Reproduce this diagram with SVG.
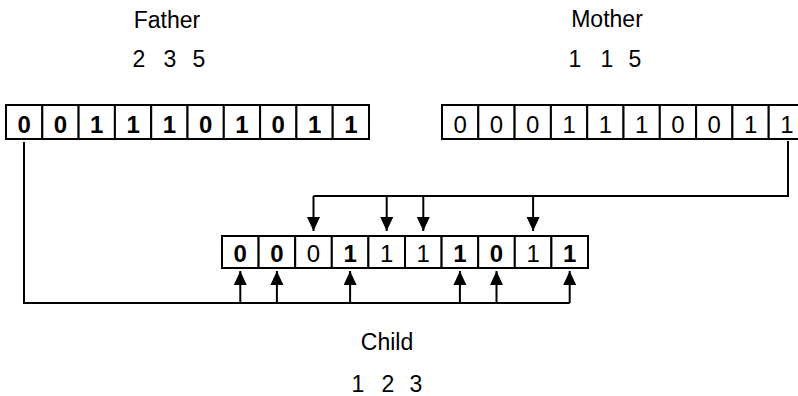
<svg xmlns="http://www.w3.org/2000/svg" width="798" height="396" viewBox="0 0 798 396">
<style>
.cell{fill:#fff;stroke:#000;stroke-width:2}
.d{font-family:"Liberation Sans",Arial,sans-serif;font-size:24px;text-anchor:middle;fill:#000}
.b{font-weight:bold}
.lab{font-family:"Liberation Sans",Arial,sans-serif;font-size:23px;text-anchor:middle;fill:#000}
.con{fill:none;stroke:#000;stroke-width:2}
</style>
<defs>
<marker id="ah" markerUnits="userSpaceOnUse" markerWidth="15" markerHeight="14" refX="14" refY="6.5" orient="auto" viewBox="0 0 15 14">
<path d="M0,0 L14,6.5 L0,13 z" fill="#000"/>
</marker>
</defs>
<rect width="798" height="396" fill="#fff"/>

<g id="father">
<text class="lab" x="167" y="28">Father</text>
<text class="lab" x="139" y="67">2</text><text class="lab" x="170" y="67">3</text><text class="lab" x="199" y="67">5</text>
<rect class="cell" x="6" y="105" width="36.3" height="34"/>
<rect class="cell" x="42.3" y="105" width="36.3" height="34"/>
<rect class="cell" x="78.6" y="105" width="36.3" height="34"/>
<rect class="cell" x="114.9" y="105" width="36.3" height="34"/>
<rect class="cell" x="151.2" y="105" width="36.3" height="34"/>
<rect class="cell" x="187.5" y="105" width="36.3" height="34"/>
<rect class="cell" x="223.8" y="105" width="36.3" height="34"/>
<rect class="cell" x="260.1" y="105" width="36.3" height="34"/>
<rect class="cell" x="296.4" y="105" width="36.3" height="34"/>
<rect class="cell" x="332.7" y="105" width="36.3" height="34"/>
<text class="d b" x="24.2" y="133">0</text>
<text class="d b" x="60.5" y="133">0</text>
<text class="d b" x="96.8" y="133">1</text>
<text class="d b" x="133.1" y="133">1</text>
<text class="d b" x="169.4" y="133">1</text>
<text class="d b" x="205.7" y="133">0</text>
<text class="d b" x="242" y="133">1</text>
<text class="d b" x="278.3" y="133">0</text>
<text class="d b" x="314.6" y="133">1</text>
<text class="d b" x="350.9" y="133">1</text>
</g>

<g id="mother">
<text class="lab" x="607" y="27">Mother</text>
<text class="lab" x="575" y="67">1</text><text class="lab" x="607" y="67">1</text><text class="lab" x="635" y="67">5</text>
<rect class="cell" x="442" y="105" width="36.3" height="34"/>
<rect class="cell" x="478.3" y="105" width="36.3" height="34"/>
<rect class="cell" x="514.6" y="105" width="36.3" height="34"/>
<rect class="cell" x="550.9" y="105" width="36.3" height="34"/>
<rect class="cell" x="587.2" y="105" width="36.3" height="34"/>
<rect class="cell" x="623.5" y="105" width="36.3" height="34"/>
<rect class="cell" x="659.8" y="105" width="36.3" height="34"/>
<rect class="cell" x="696.1" y="105" width="36.3" height="34"/>
<rect class="cell" x="732.4" y="105" width="36.3" height="34"/>
<rect class="cell" x="768.7" y="105" width="36.3" height="34"/>
<text class="d" x="460.2" y="133">0</text>
<text class="d" x="496.5" y="133">0</text>
<text class="d" x="532.8" y="133">0</text>
<text class="d" x="569.1" y="133">1</text>
<text class="d" x="605.4" y="133">1</text>
<text class="d" x="641.7" y="133">1</text>
<text class="d" x="678" y="133">0</text>
<text class="d" x="714.3" y="133">0</text>
<text class="d" x="750.6" y="133">1</text>
<text class="d" x="786.9" y="133">1</text>
</g>

<g id="child">
<text class="lab" x="387" y="350">Child</text>
<text class="lab" x="358" y="392">1</text><text class="lab" x="388" y="392">2</text><text class="lab" x="416" y="392">3</text>
<rect class="cell" x="222" y="236" width="36.6" height="32"/>
<rect class="cell" x="258.6" y="236" width="36.6" height="32"/>
<rect class="cell" x="295.2" y="236" width="36.6" height="32"/>
<rect class="cell" x="331.8" y="236" width="36.6" height="32"/>
<rect class="cell" x="368.4" y="236" width="36.6" height="32"/>
<rect class="cell" x="405" y="236" width="36.6" height="32"/>
<rect class="cell" x="441.6" y="236" width="36.6" height="32"/>
<rect class="cell" x="478.2" y="236" width="36.6" height="32"/>
<rect class="cell" x="514.8" y="236" width="36.6" height="32"/>
<rect class="cell" x="551.4" y="236" width="36.6" height="32"/>
<text class="d b" x="240.3" y="262">0</text>
<text class="d b" x="276.9" y="262">0</text>
<text class="d" x="313.5" y="262">0</text>
<text class="d b" x="350.1" y="262">1</text>
<text class="d" x="386.7" y="262">1</text>
<text class="d" x="423.3" y="262">1</text>
<text class="d b" x="459.9" y="262">1</text>
<text class="d b" x="496.5" y="262">0</text>
<text class="d" x="533.1" y="262">1</text>
<text class="d b" x="569.7" y="262">1</text>
</g>

<g id="connectors">
<path class="con" d="M24 142 V303 H569.7"/>
<line class="con" x1="240.3" y1="303" x2="240.3" y2="271" marker-end="url(#ah)"/>
<line class="con" x1="276.9" y1="303" x2="276.9" y2="271" marker-end="url(#ah)"/>
<line class="con" x1="350.1" y1="303" x2="350.1" y2="271" marker-end="url(#ah)"/>
<line class="con" x1="459.9" y1="303" x2="459.9" y2="271" marker-end="url(#ah)"/>
<line class="con" x1="496.5" y1="303" x2="496.5" y2="271" marker-end="url(#ah)"/>
<line class="con" x1="569.7" y1="303" x2="569.7" y2="271" marker-end="url(#ah)"/>
<path class="con" d="M788 141 V196 H313.5"/>
<line class="con" x1="313.5" y1="196" x2="313.5" y2="231" marker-end="url(#ah)"/>
<line class="con" x1="386.7" y1="196" x2="386.7" y2="231" marker-end="url(#ah)"/>
<line class="con" x1="423.3" y1="196" x2="423.3" y2="231" marker-end="url(#ah)"/>
<line class="con" x1="533.1" y1="196" x2="533.1" y2="231" marker-end="url(#ah)"/>
</g>
</svg>
